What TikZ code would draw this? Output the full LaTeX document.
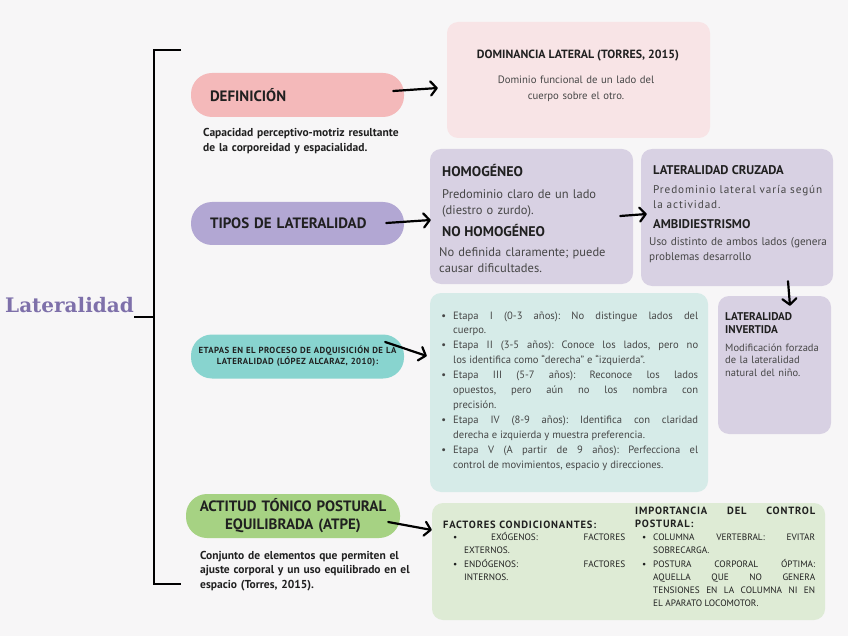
\documentclass[tikz,border=0pt]{standalone}
\usepackage{fontspec}
\setmainfont{PT Sans}
\newfontfamily\ttlfont{DejaVu Serif}
\usetikzlibrary{arrows.meta}
\definecolor{bgc}{RGB}{247,246,247}
\definecolor{defp}{RGB}{244,185,186}
\definecolor{domc}{RGB}{248,228,230}
\definecolor{tipp}{RGB}{178,167,211}
\definecolor{tipc}{RGB}{216,209,227}
\definecolor{etpp}{RGB}{136,212,207}
\definecolor{etpc}{RGB}{214,235,232}
\definecolor{atpp}{RGB}{166,210,131}
\definecolor{atpc}{RGB}{222,235,213}
\definecolor{ttlc}{RGB}{126,112,170}
\definecolor{ink}{RGB}{32,32,32}
\definecolor{bodyc}{RGB}{70,70,70}
\newcommand{\PR}{21pt}
\newcommand{\CR}{11pt}
\newcommand{\Fpill}{\bfseries\fontsize{15}{18}\selectfont}
\newcommand{\Fetp}{\bfseries\fontsize{8.8}{11}\selectfont\addfontfeature{LetterSpace=5}}
\newcommand{\Fcap}{\bfseries\fontsize{11.5}{14.5}\selectfont}
\newcommand{\Fhead}{\bfseries\fontsize{14}{16}\selectfont}
\newcommand{\FheadD}{\bfseries\fontsize{11.9}{14}\selectfont}
\newcommand{\FheadS}{\bfseries\fontsize{12.6}{14}\selectfont}
\newcommand{\FinvH}{\bfseries\fontsize{11.2}{13.5}\selectfont}
\newcommand{\Fdom}{\fontsize{10.7}{15.5}\selectfont}
\newcommand{\Fhom}{\fontsize{12.5}{16}\selectfont}
\newcommand{\Fcruz}{\fontsize{11.2}{14.5}\selectfont}
\newcommand{\Finv}{\fontsize{10.5}{12.8}\selectfont}
\newcommand{\FetpB}{\fontsize{10.6}{14.9}\selectfont}
\newcommand{\FfacH}{\bfseries\fontsize{10.5}{13.5}\selectfont\addfontfeature{LetterSpace=8}}
\newcommand{\Ffac}{\fontsize{9.3}{13}\selectfont}
\newcommand{\bul}{\llap{\textbullet\hspace{7pt}}}

\begin{document}
\frenchspacing
\begin{tikzpicture}[
    x=1pt, y=-1pt,
    pill/.style={rectangle, rounded corners=\PR, minimum height=44pt, inner ysep=0pt, text=ink},
    card/.style={rectangle, rounded corners=\CR, inner sep=0pt},
    head/.style={anchor=base west, inner sep=0pt, text=ink, align=left, font=\Fhead},
    body/.style={anchor=base west, inner sep=0pt, text=bodyc, align=left},
    item/.style={body, align=justify},
    flow/.style={-{Straight Barb[length=6pt, width=14pt, round]}, line width=2.2pt, line cap=round},
    brace/.style={draw=black, line width=1.8pt},
  ]
  \useasboundingbox[fill=bgc] (0,0) rectangle (848,636);

  % --- title and the bracket that gathers the four branches
  \node[anchor=base west, inner sep=0pt, text=ttlc, font=\ttlfont\bfseries\fontsize{20}{24}\selectfont] (ttl) at (5,312) {Lateralidad};
  \coordinate (brTop) at (181,50);
  \coordinate (brMid) at (154,317);
  \coordinate (brBot) at (181,584);
  \draw[brace] (brTop) -| (brMid) |- (brBot);
  \draw[brace] ([yshift=-5pt]ttl.base east) -- (brMid);

  % --- (1) definicion
  \node[pill, fill=defp, text width=175pt, inner xsep=19pt, align=left, font=\Fpill] (defn) at (297.5,95) {DEFINICIÓN};
  \node[body, text=ink, font=\Fcap, text width=215pt] (defnC) at (203,137) {Capacidad perceptivo-motriz resultante\\de la corporeidad y espacialidad.};
  \node[card, fill=domc, minimum width=263pt, minimum height=116pt] (dom) at (578.5,80) {};
  \node[head, anchor=base, font=\FheadD] (domH) at (578,59) {DOMINANCIA LATERAL (TORRES, 2015)};
  \node[body, anchor=base, align=center, text width=200pt, font=\Fdom] (domB) at (576,84) {Dominio funcional de un lado del\\cuerpo sobre el otro.};
  \draw[flow] ([xshift=-11pt, yshift=4pt]defn.east) -- ([xshift=-9pt, yshift=-8pt]dom.west);

  % --- (2) tipos: homogeneo / cruzada / invertida
  \node[pill, fill=tipp, text width=175pt, inner xsep=19pt, align=left, font=\Fpill, minimum height=43pt] (tip) at (297.5,223.5) {TIPOS DE LATERALIDAD};
  \node[card, fill=tipc, minimum width=203pt, minimum height=135pt] (hom) at (531.5,216.5) {};
  \node[head] (homH) at (442,177) {HOMOGÉNEO};
  \node[body, text width=185pt, font=\Fhom] (homB) at (442,199) {Predominio claro de un lado\\(diestro o zurdo).};
  \node[head] (nhomH) at (442,237) {NO HOMOGÉNEO};
  \node[body, text width=190pt, font=\Fhom] (nhomB) at (439,257) {No definida claramente; puede\\causar dificultades.};
  \node[card, fill=tipc, minimum width=192pt, minimum height=137pt] (cruz) at (737,217.5) {};
  \node[head, font=\FheadS] (cruzH) at (653,174.5) {LATERALIDAD CRUZADA};
  \node[body, text width=180pt, font=\Fcruz\addfontfeature{LetterSpace=8}] (cruzB) at (653,194) {Predominio lateral varía según\\la actividad.};
  \node[head, font=\FheadS] (ambH) at (653,228.5) {AMBIDIESTRISMO};
  \node[body, text width=185pt, font=\Fcruz] (ambB) at (649,246) {Uso distinto de ambos lados (genera\\problemas desarrollo};
  \node[card, fill=tipc, minimum width=113pt, minimum height=138pt] (inv) at (774.5,365) {};
  \node[head, font=\FinvH, text width=100pt] (invH) at (725,320) {LATERALIDAD\\INVERTIDA};
  \node[body, text width=100pt, font=\Finv] (invB) at (725,351) {Modificación forzada\\de la lateralidad\\natural del niño.};
  \draw[flow] ([xshift=-18pt, yshift=0.5pt]tip.east) -- ([xshift=1pt, yshift=-3.5pt]hom.west);
  \draw[flow] ([xshift=-13pt, yshift=0.5pt]hom.east) -- ([xshift=6pt, yshift=3.5pt]cruz.west);
  \draw[flow] ([xshift=51pt, yshift=5pt]cruz.south) -- ([xshift=15.5pt, yshift=-10pt]inv.north);

  % --- (3) etapas, one node per bullet
  \node[pill, fill=etpp, text width=205pt, inner xsep=4pt, align=center, font=\Fetp] (etpP) at (297.5,356.5) {ETAPAS EN EL PROCESO DE ADQUISICIÓN DE LA\\LATERALIDAD (LÓPEZ ALCARAZ, 2010):};
  \node[card, fill=etpc, minimum width=278pt, minimum height=199pt] (etp) at (569,392.5) {};
  \node[item, text width=245pt, font=\FetpB] (et1) at (453,319) {\bul Etapa I (0-3 años): No distingue lados del\linebreak cuerpo.};
  \node[item, text width=245pt, font=\FetpB] (et2) at (453,348.8) {\bul Etapa II (3-5 años): Conoce los lados, pero no\linebreak los identifica como “derecha” e “izquierda”.};
  \node[item, text width=245pt, font=\FetpB] (et3) at (453,378.6) {\bul Etapa III (5-7 años): Reconoce los lados\linebreak opuestos, pero aún no los nombra con\linebreak precisión.};
  \node[item, text width=245pt, font=\FetpB] (et4) at (453,423.3) {\bul Etapa IV (8-9 años): Identifica con claridad\linebreak derecha e izquierda y muestra preferencia.};
  \node[item, text width=245pt, font=\FetpB] (et5) at (453,453.1) {\bul Etapa V (A partir de 9 años): Perfecciona el\linebreak control de movimientos, espacio y direcciones.};
  \draw[flow] ([xshift=-19pt, yshift=14.5pt]etpP.east) -- ([xshift=-3pt, yshift=36.5pt]etp.west);

  % --- (4) ATPE
  \node[pill, fill=atpp, text width=200pt, inner xsep=7pt, align=center, font=\Fpill] (atp) at (293,516) {ACTITUD TÓNICO POSTURAL\\EQUILIBRADA (ATPE)};
  \node[body, text=ink, font=\Fcap, text width=220pt] (atpC) at (200,559) {Conjunto de elementos que permiten el\\ajuste corporal y un uso equilibrado en el\\espacio (Torres, 2015).};
  \node[card, fill=atpc, minimum width=393pt, minimum height=117pt] (fac) at (628.5,561.5) {};
  \node[head, font=\FfacH] (facH) at (443,528) {FACTORES CONDICIONANTES:};
  \node[item, text width=161pt, text=ink, font=\Ffac] (fac1) at (464,540) {\bul\hskip 0pt plus 1fil EXÓGENOS:\hskip 0pt plus 1.7fil FACTORES\linebreak EXTERNOS.};
  \node[item, text width=161pt, text=ink, font=\Ffac] (fac2) at (464,567) {\bul ENDÓGENOS: FACTORES\linebreak INTERNOS.};
  \node[head, align=justify, text width=180pt, font=\FfacH] (impH) at (635,514) {IMPORTANCIA DEL CONTROL\linebreak POSTURAL:};
  \node[item, text width=162pt, text=ink, font=\Ffac] (imp1) at (653,540) {\bul COLUMNA VERTEBRAL: EVITAR\linebreak SOBRECARGA.};
  \node[item, text width=162pt, text=ink, font=\Ffac] (imp2) at (653,567) {\bul POSTURA CORPORAL ÓPTIMA:\linebreak AQUELLA QUE NO GENERA\linebreak TENSIONES EN LA COLUMNA NI EN\linebreak EL APARATO LOCOMOTOR.};
  \draw[flow] ([xshift=-12pt, yshift=-6pt]atp.east) -- ([yshift=31.5pt]fac.west);

\end{tikzpicture}
\end{document}
